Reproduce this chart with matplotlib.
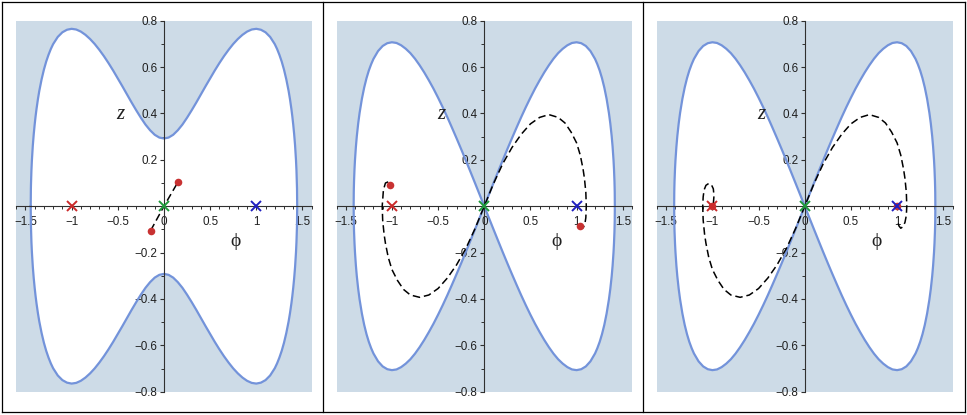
import matplotlib
matplotlib.use("Agg")
import matplotlib.pyplot as plt
from matplotlib.lines import Line2D
from matplotlib.ticker import MultipleLocator

# ---------------- data ----------------
# Level curve, panel 1 (upper-right quarter: phi >= 0, z >= 0)
curve1_phi = [0.0, 0.05, 0.1, 0.15, 0.2, 0.25, 0.3, 0.35, 0.4, 0.45, 0.5, 0.55, 0.6,
              0.65, 0.7, 0.75, 0.8, 0.85, 0.9, 0.95, 1.0, 1.05, 1.1, 1.15, 1.2,
              1.225, 1.25, 1.275, 1.3, 1.325, 1.35, 1.365, 1.38, 1.39, 1.40, 1.41,
              1.42, 1.43, 1.435, 1.44, 1.441, 1.442, 1.4428]
curve1_z = [0.292, 0.296, 0.308, 0.3275, 0.352, 0.3815, 0.4135, 0.447, 0.482, 0.517,
            0.551, 0.585, 0.617, 0.647, 0.6745, 0.6995, 0.721, 0.739, 0.753, 0.762,
            0.765, 0.761, 0.750, 0.730, 0.699, 0.678, 0.653, 0.624, 0.589, 0.547,
            0.497, 0.461, 0.4195, 0.388, 0.352, 0.311, 0.262, 0.198, 0.155, 0.093,
            0.075, 0.050, 0.0]

# Separatrix, panels 2 and 3 (upper-right quarter)
curve2_phi = [0.0, 0.05, 0.1, 0.15, 0.2, 0.25, 0.3, 0.35, 0.4, 0.45, 0.5, 0.55, 0.6,
              0.65, 0.7, 0.75, 0.8, 0.85, 0.9, 0.95, 1.0, 1.05, 1.1, 1.15, 1.2,
              1.225, 1.25, 1.275, 1.3, 1.325, 1.35, 1.365, 1.38, 1.39, 1.40, 1.405,
              1.41, 1.412, 1.413, 1.4142]
curve2_z = [0.0, 0.050, 0.0997, 0.149, 0.198, 0.246, 0.293, 0.339, 0.384, 0.427,
            0.468, 0.507, 0.543, 0.577, 0.608, 0.636, 0.660, 0.679, 0.694, 0.704,
            0.707, 0.703, 0.691, 0.669, 0.635, 0.612, 0.585, 0.552, 0.512, 0.463,
            0.402, 0.357, 0.302, 0.256, 0.198, 0.160, 0.109, 0.079, 0.059, 0.0]

# Trajectories (black dashed)
traj1_phi = [-0.144, 0.0, 0.153]
traj1_z = [-0.105, 0.0, 0.105]

traj2_phi = [-1.04, -1.07, -1.092, -1.105, -1.10, -1.085, -1.07, -1.04, -1.0, -0.94,
             -0.874, -0.8, -0.7, -0.6, -0.5, -0.4, -0.3, -0.2, -0.1, 0.0,
             0.1, 0.2, 0.3, 0.4, 0.5, 0.6, 0.7, 0.8, 0.874, 0.94,
             1.0, 1.04, 1.07, 1.085, 1.10, 1.105, 1.10, 1.09, 1.07]
traj2_z = [0.105, 0.10, 0.07, 0.0, -0.06, -0.12, -0.16, -0.22, -0.273, -0.32,
           -0.359, -0.383, -0.393, -0.383, -0.355, -0.31, -0.253, -0.183, -0.097, 0.0,
           0.097, 0.183, 0.253, 0.31, 0.355, 0.383, 0.395, 0.383, 0.359, 0.32,
           0.273, 0.22, 0.16, 0.12, 0.06, 0.0, -0.05, -0.075, -0.095]

traj3_phi = [-0.99, -0.983, -0.99, -1.01, -1.04, -1.07, -1.09, -1.10, -1.105,
             -1.10, -1.085, -1.07, -1.04, -1.0, -0.94, -0.874, -0.8, -0.7, -0.6,
             -0.5, -0.4, -0.3, -0.2, -0.1, 0.0, 0.1, 0.2, 0.3, 0.4, 0.5, 0.6, 0.7,
             0.8, 0.874, 0.94, 1.0, 1.04, 1.07, 1.085, 1.10, 1.105, 1.10, 1.085,
             1.065, 1.04, 1.02, 1.005]
traj3_z = [0.01, 0.045, 0.075, 0.092, 0.098, 0.09, 0.07, 0.04, 0.0,
           -0.06, -0.12, -0.16, -0.22, -0.273, -0.32, -0.359, -0.383, -0.393, -0.383,
           -0.355, -0.31, -0.253, -0.183, -0.097, 0.0, 0.097, 0.183, 0.253, 0.31,
           0.355, 0.383, 0.395, 0.383, 0.359, 0.32, 0.273, 0.22, 0.16, 0.12, 0.06,
           0.0, -0.04, -0.07, -0.088, -0.095, -0.085, -0.062]

# Red dots (initial / final points)
dots1_phi, dots1_z = [-0.144, 0.153], [-0.105, 0.105]
dots2_phi, dots2_z = [-1.02, 1.033], [0.09, -0.086]
dots3_phi, dots3_z = [-1.0, 1.0], [0.0, 0.0]

# Equilibrium crosses
cross_phi = [-1.0, 0.0, 1.0]
cross_z = [0.0, 0.0, 0.0]
cross_colors = ["#cc2a2a", "#1f9a3c", "#2020c0"]

# Ticks
xticks = [-1.5, -1.0, -0.5, 0.0, 0.5, 1.0, 1.5]
xticklabels = ["\u22121.5", "\u22121", "\u22120.5", "0", "0.5", "1", "1.5"]
yticks = [-0.8, -0.6, -0.4, -0.2, 0.2, 0.4, 0.6, 0.8]
yticklabels = ["\u22120.8", "\u22120.6", "\u22120.4", "\u22120.2", "0.2", "0.4", "0.6", "0.8"]

# ---------------- style ----------------
SHADE = "#cddbe7"
CURVE = "#7393da"
DOT = "#c83232"
W, H = 967, 415

plt.rcParams["lines.scale_dashes"] = False

fig = plt.figure(figsize=(W / 100, H / 100), dpi=100)
fig.patch.set_facecolor("white")


def closed_single(ph, zz):
    # full closed outline from upper-right quarter (mirror symmetry)
    up_x = [-p for p in ph[::-1]] + ph[1:]
    up_y = zz[::-1] + zz[1:]
    lo_x = up_x[::-1]
    lo_y = [-v for v in up_y[::-1]]
    return up_x + lo_x, up_y + lo_y


def lobes(ph, zz):
    rx = ph + ph[::-1]
    ry = zz + [-v for v in zz[::-1]]
    lx = [-p for p in rx]
    return (rx, ry), (lx, ry)


panel_lefts = [16.2, 336.5, 657.0]
ax_top, ax_h, ax_w = 20.7, 371.0, 295.5

panels = [
    ("single", curve1_phi, curve1_z, traj1_phi, traj1_z, dots1_phi, dots1_z),
    ("lobes", curve2_phi, curve2_z, traj2_phi, traj2_z, dots2_phi, dots2_z),
    ("lobes", curve2_phi, curve2_z, traj3_phi, traj3_z, dots3_phi, dots3_z),
]

for left, (kind, cph, cz, tph, tz, dph, dz) in zip(panel_lefts, panels):
    ax = fig.add_axes([left / W, 1 - (ax_top + ax_h) / H, ax_w / W, ax_h / H])
    ax.set_facecolor(SHADE)
    ax.set_xlim(-1.6, 1.6)
    ax.set_ylim(-0.8, 0.8)

    if kind == "single":
        polys = [closed_single(cph, cz)]
    else:
        polys = list(lobes(cph, cz))
    for px_, py_ in polys:
        ax.fill(px_, py_, color="white", lw=0, zorder=1)
        ax.plot(px_, py_, color=CURVE, lw=1.6, zorder=2, solid_joinstyle="round")

    ax.plot(tph, tz, color="black", lw=1.1, dashes=(5.4, 2.8), zorder=3)
    ax.scatter(dph, dz, s=30, color=DOT, zorder=4, linewidths=0)
    for cp, czz, cc in zip(cross_phi, cross_z, cross_colors):
        ax.plot([cp], [czz], marker="x", ms=6.5, mew=1.4, color=cc, zorder=5)

    for s in ["top", "right"]:
        ax.spines[s].set_visible(False)
    ax.spines["left"].set_position(("data", 0))
    ax.spines["bottom"].set_position(("data", 0))
    for s in ["left", "bottom"]:
        ax.spines[s].set_color("#303030")
        ax.spines[s].set_linewidth(0.8)
        ax.spines[s].set_zorder(2.5)

    ax.set_xticks(xticks)
    ax.set_xticklabels(xticklabels)
    ax.set_yticks(yticks)
    ax.set_yticklabels(yticklabels)
    ax.xaxis.set_minor_locator(MultipleLocator(0.1))
    ax.yaxis.set_minor_locator(MultipleLocator(0.1))
    ax.tick_params(which="major", direction="out", length=3.2, width=0.8,
                   color="#303030", labelsize=8.4, pad=3.5)
    ax.tick_params(which="minor", direction="out", length=2.0, width=0.7,
                   color="#303030")
    ax.tick_params(axis="y", which="major", pad=1.5)
    for lab in ax.get_xticklabels() + ax.get_yticklabels():
        lab.set_family("Liberation Sans")
        lab.set_color("#202020")

    ax.text(-0.47, 0.395, "z", fontsize=15, family=["Liberation Serif", "DejaVu Serif"],
            style="italic", ha="center", va="center", color="#202020")
    ax.text(0.78, -0.152, "\u03d5", fontsize=14, family=["Liberation Serif", "DejaVu Serif"],
            ha="center", va="center", color="#202020")

# cell borders
def hline(x0, x1, y):
    fig.add_artist(Line2D([x0 / W, x1 / W], [1 - y / H, 1 - y / H],
                          color="black", lw=0.9, transform=fig.transFigure))


def vline(x, y0, y1):
    fig.add_artist(Line2D([x / W, x / W], [1 - y0 / H, 1 - y1 / H],
                          color="black", lw=0.9, transform=fig.transFigure))


hline(1.5, 965, 2.5)
hline(1.5, 965, 412)
for xb in [1.5, 323.2, 642.6, 965]:
    vline(xb, 2.5, 412)

fig.savefig("out.png", dpi=100, facecolor="white")
